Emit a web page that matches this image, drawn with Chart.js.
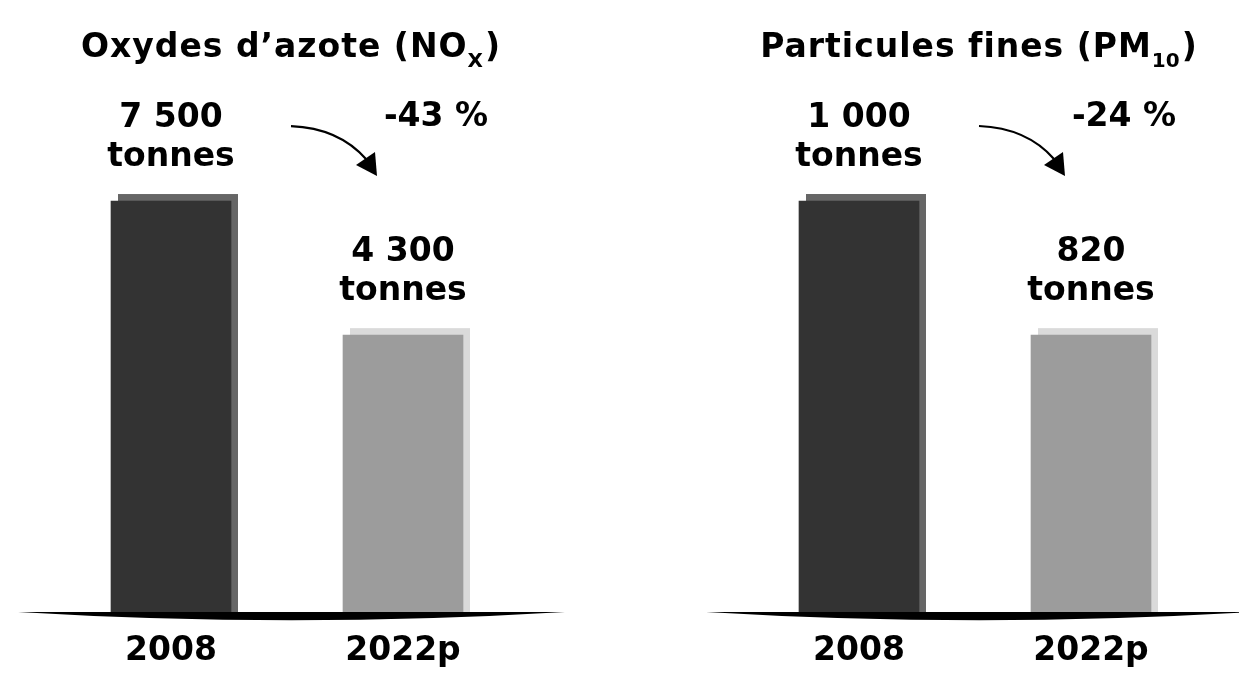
<!DOCTYPE html>
<html><head><meta charset="utf-8">
<script src="https://cdn.jsdelivr.net/npm/chart.js@4"></script>
<style>
html,body{margin:0;padding:0;background:#fff;}
#wrap{position:relative;width:1239px;height:673px;overflow:hidden;background:#fff;}
canvas{position:absolute;top:0;}
</style></head><body>
<div id="wrap">
<canvas id="c1" width="620" height="692" style="left:0"></canvas>
<canvas id="c2" width="619" height="692" style="left:620px"></canvas>
</div>
<script>
// ---- data ----
const categories = ['2008', '2022p'];
const noxValues = [7500, 4300];
const pmValues = [1000, 820];
const noxChange = '-43 %';
const pmChange = '-24 %';
const unitLabel = 'tonnes';
const noxTitle = ['Oxydes d\u2019azote (NO', 'X', ')'];
const pmTitle = ['Particules fines (PM', '10', ')'];

// ---- styles ----
const frontColors = ['#333333', '#9c9c9c'];
const shadowColors = ['#666666', '#dadada'];
const FONT = '"DejaVu Sans"';

function fmt(v) {
  return String(v).replace(/\B(?=(\d{3})+(?!\d))/g, ' ');
}

function makePlugin(titleParts, changeText) {
  return {
    id: 'decor',
    beforeDatasetsDraw(chart) {
      const ctx = chart.ctx;
      const meta = chart.getDatasetMeta(0);
      ctx.save();
      meta.data.forEach((bar, i) => {
        const p = bar.getProps(['x', 'y', 'width', 'base'], true);
        ctx.fillStyle = shadowColors[i];
        ctx.fillRect(p.x - p.width / 2 + 7, p.y - 7, p.width, p.base - p.y + 7);
      });
      ctx.restore();
    },
    afterDatasetsDraw(chart) {
      const ctx = chart.ctx;
      const ca = chart.chartArea;
      const meta = chart.getDatasetMeta(0);
      const vals = chart.data.datasets[0].data;
      ctx.save();
      // baseline lens
      const x0 = ca.left - 37, L = 547, yb = ca.bottom;
      ctx.fillStyle = '#000';
      ctx.beginPath();
      ctx.moveTo(x0, yb - 0.5);
      ctx.lineTo(x0 + L, yb - 0.5);
      ctx.quadraticCurveTo(x0 + L / 2, yb + 16, x0, yb - 0.5);
      ctx.closePath();
      ctx.fill();
      // value labels
      ctx.fillStyle = '#000';
      ctx.textAlign = 'center';
      ctx.textBaseline = 'alphabetic';
      ctx.font = 'bold 33px ' + FONT;
      meta.data.forEach((bar, i) => {
        const p = bar.getProps(['x', 'y'], true);
        ctx.fillText(fmt(vals[i]), p.x, p.y - 74);
        ctx.fillText(unitLabel, p.x, p.y - 35);
      });
      // change label and arrow
      const b0 = meta.data[0].getProps(['x', 'y'], true);
      const b1 = meta.data[1].getProps(['x', 'y'], true);
      ctx.fillText(changeText, b1.x + 33, b0.y - 75);
      ctx.strokeStyle = '#000';
      ctx.lineWidth = 2.2;
      ctx.beginPath();
      ctx.moveTo(b0.x + 120, b0.y - 75);
      ctx.quadraticCurveTo(b0.x + 168, b0.y - 73, b0.x + 195, b0.y - 42);
      ctx.stroke();
      ctx.beginPath();
      ctx.moveTo(b0.x + 206, b0.y - 25);
      ctx.lineTo(b0.x + 185, b0.y - 36);
      ctx.lineTo(b0.x + 204, b0.y - 49);
      ctx.closePath();
      ctx.fill();
      // title with subscript
      const mainF = 'bold 33px ' + FONT, subF = 'bold 20px ' + FONT;
      ctx.letterSpacing = '1px';
      ctx.font = mainF;
      const w1 = ctx.measureText(titleParts[0]).width;
      const w3 = ctx.measureText(titleParts[2]).width;
      ctx.letterSpacing = '0px';
      ctx.font = subF;
      const w2 = ctx.measureText(titleParts[1]).width + 2;
      const total = w1 + w2 + w3;
      let tx = (ca.left + ca.right) / 2 + 4 - total / 2;
      const ty = 57;
      ctx.textAlign = 'left';
      ctx.letterSpacing = '1px';
      ctx.font = mainF; ctx.fillText(titleParts[0], tx, ty); tx += w1;
      ctx.letterSpacing = '0px';
      ctx.font = subF; ctx.fillText(titleParts[1], tx, ty + 10); tx += w2;
      ctx.letterSpacing = '1px';
      ctx.font = mainF; ctx.fillText(titleParts[2], tx, ty);
      ctx.restore();
    }
  };
}

function makeChart(id, values, yMin, yMax, padL, padR, titleParts, changeText) {
  return new Chart(document.getElementById(id), {
    type: 'bar',
    data: {
      labels: categories,
      datasets: [{
        data: values,
        base: yMin,
        backgroundColor: frontColors,
        borderWidth: 0,
        barThickness: 120
      }]
    },
    options: {
      responsive: false,
      animation: false,
      devicePixelRatio: 1,
      layout: { padding: { left: padL, right: padR, top: 180, bottom: 2 } },
      plugins: { legend: { display: false }, tooltip: { enabled: false }, title: { display: false } },
      scales: {
        x: {
          grid: { display: false, drawTicks: false },
          border: { display: false },
          ticks: { color: '#000', padding: 19, font: { family: 'DejaVu Sans', size: 33, weight: 'bold' } }
        },
        y: { display: false, min: yMin, max: yMax }
      }
    },
    plugins: [makePlugin(titleParts, changeText)]
  });
}

makeChart('c1', noxValues, -2315, 8002, 55, 101, noxTitle, noxChange);
makeChart('c2', pmValues, 447.9, 1028.2, 123, 32, pmTitle, pmChange);
</script>
</body></html>
